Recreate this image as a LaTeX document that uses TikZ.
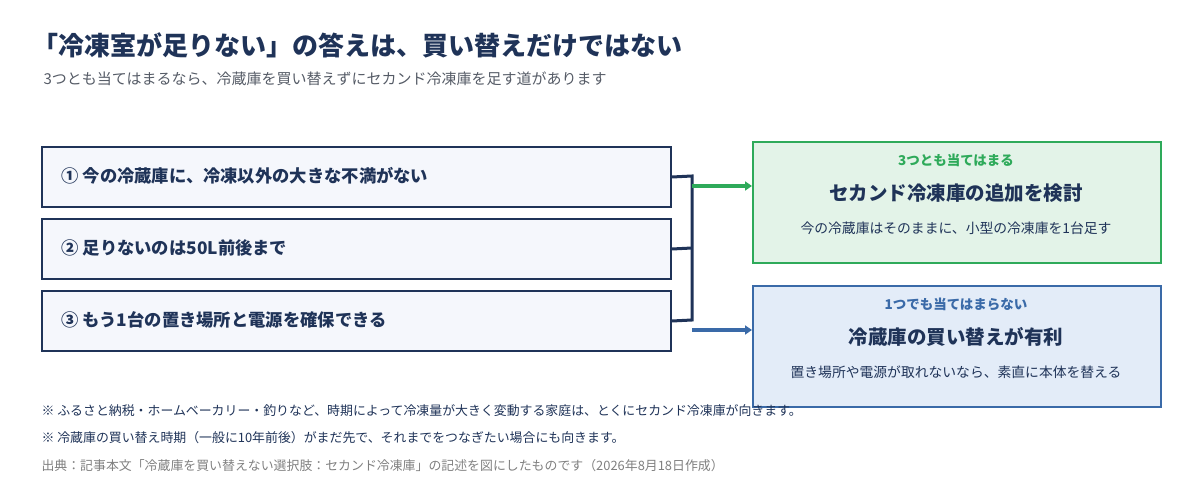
\documentclass[tikz,border=0pt]{standalone}
\usepackage{fontspec}
\setmainfont{Noto Sans CJK JP}
\usetikzlibrary{arrows.meta}
\definecolor{navy}{HTML}{1F3358}
\definecolor{gtx}{HTML}{555B66}
\definecolor{gbd}{HTML}{2EAA5A}
\definecolor{gfill}{HTML}{E3F3E8}
\definecolor{bbd}{HTML}{3A6AA8}
\definecolor{bfill}{HTML}{E3ECF8}
\definecolor{lfill}{HTML}{F5F7FC}
\begin{document}
\begin{tikzpicture}[x=1pt,y=-1pt,
 cond/.style={draw=navy,line width=2pt,fill=lfill,minimum width=629pt,minimum height=60pt,anchor=north west,inner sep=0},
 ctext/.style={anchor=west,font=\fontsize{17.3}{19}\selectfont\bfseries,text=navy},
 res/.style={line width=2pt,minimum width=408pt,minimum height=121pt,anchor=north west,inner sep=0},
 note/.style={anchor=west,font=\fontsize{12.9}{15}\selectfont,text=navy}]
\useasboundingbox (0,0) rectangle (1200,494);
\node[anchor=west,font=\fontsize{26}{30}\selectfont\bfseries,text=navy] (title) at (29,45) {「冷凍室が足りない」の答えは、買い替えだけではない};
\node[anchor=west,font=\fontsize{15}{18}\selectfont,text=gtx] (sub) at (40,79) {3つとも当てはまるなら、冷蔵庫を買い替えずにセカンド冷凍庫を足す道があります};
\node[cond] (c1) at (41,146) {};
\node[cond] (c2) at (41,218) {};
\node[cond] (c3) at (41,290) {};
\node[ctext] (t1) at (58,176) {① 今の冷蔵庫に、冷凍以外の大きな不満がない};
\node[ctext] (t2) at (58,248) {② 足りないのは50L前後まで};
\node[ctext] (t3) at (58,320) {③ もう1台の置き場所と電源を確保できる};
\coordinate (j1) at (692,176);
\coordinate (j2) at (692,248);
\coordinate (j3) at (692,320);
\draw[navy,line width=3pt,line join=miter] (c1.east) -- (j1) -- (j3) -- (c3.east);
\draw[navy,line width=3pt] (c2.east) -- (j2);
\node[res,draw=gbd,fill=gfill] (g) at (752,141) {};
\node[res,draw=bbd,fill=bfill] (b) at (752,285) {};
\coordinate (ga) at (692,186);
\coordinate (ba) at (692,330);
\draw[gbd,line width=3.5pt,-{Triangle[length=7pt,width=9pt]}] (ga) -- (g.west |- ga);
\draw[bbd,line width=3.5pt,-{Triangle[length=7pt,width=9pt]}] (ba) -- (b.west |- ba);
\node[font=\fontsize{13.5}{15}\selectfont\bfseries,text=gbd] (g1) at (956,160) {3つとも当てはまる};
\node[font=\fontsize{19.5}{22}\selectfont\bfseries,text=navy] (g2) at (956,193) {セカンド冷凍庫の追加を検討};
\node[font=\fontsize{13.8}{15}\selectfont,text=navy] (g3) at (956,228) {今の冷蔵庫はそのままに、小型の冷凍庫を1台足す};
\node[font=\fontsize{13.5}{15}\selectfont\bfseries,text=bbd] (b1) at (956,304) {1つでも当てはまらない};
\node[font=\fontsize{19.5}{22}\selectfont\bfseries,text=navy] (b2) at (956,337) {冷蔵庫の買い替えが有利};
\node[font=\fontsize{13.8}{15}\selectfont,text=navy] (b3) at (956,372) {置き場所や電源が取れないなら、素直に本体を替える};
\node[note] (n1) at (38,411) {※ ふるさと納税・ホームベーカリー・釣りなど、時期によって冷凍量が大きく変動する家庭は、とくにセカンド冷凍庫が向きます。};
\node[note] (n2) at (38,438) {※ 冷蔵庫の買い替え時期（一般に10年前後）がまだ先で、それまでをつなぎたい場合にも向きます。};
\node[note,text=gray] (n3) at (38,466) {出典：記事本文「冷蔵庫を買い替えない選択肢：セカンド冷凍庫」の記述を図にしたものです（2026年8月18日作成）};
\end{tikzpicture}
\end{document}
